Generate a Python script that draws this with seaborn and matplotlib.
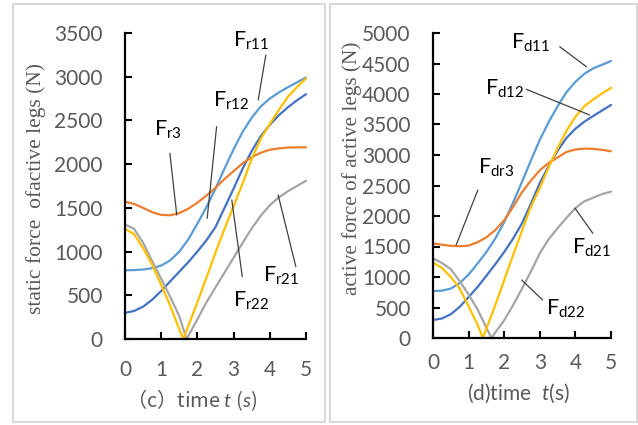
import numpy as np
import pandas as pd
import matplotlib
matplotlib.use('Agg')
import matplotlib.pyplot as plt
import seaborn as sns
from matplotlib.patches import Rectangle

# --- data ---
t_q = [0, 0.25, 0.5, 0.75, 1, 1.25, 1.5, 1.75, 2, 2.25, 2.5, 2.75, 3,
       3.25, 3.5, 3.75, 4, 4.25, 4.5, 4.75, 5]

# (c) static force of active legs
fr11 = [786, 788, 795, 810, 840, 900, 1000, 1140, 1320, 1510, 1720, 1950, 2170,
        2370, 2530, 2660, 2750, 2820, 2880, 2935, 2990]
fr12 = [300, 320, 370, 450, 550, 660, 770, 880, 1000, 1130, 1280, 1500, 1720,
        1950, 2150, 2320, 2450, 2560, 2650, 2730, 2800]
fr3 = [1570, 1545, 1500, 1450, 1420, 1415, 1440, 1490, 1560, 1640, 1730, 1830, 1920,
       2010, 2080, 2130, 2165, 2180, 2190, 2192, 2192]
t_fr22 = [0, 0.25, 0.5, 0.75, 1, 1.25, 1.5, 1.61, 2, 2.25, 2.5, 2.75, 3,
          3.25, 3.5, 3.75, 4, 4.25, 4.5, 4.75, 5]
fr22 = [1260, 1200, 1040, 850, 620, 380, 110, 0, 420, 700, 990, 1260, 1520,
        1780, 2060, 2290, 2460, 2620, 2770, 2880, 2980]
t_fr21 = [0, 0.25, 0.5, 0.75, 1, 1.25, 1.5, 1.7, 2, 2.25, 2.5, 2.75, 3,
          3.25, 3.5, 3.75, 4, 4.25, 4.5, 4.75, 5]
fr21 = [1310, 1260, 1100, 890, 690, 480, 260, 0, 225, 420, 590, 760, 930,
        1100, 1265, 1410, 1530, 1620, 1690, 1750, 1810]

# (d) active force of active legs
fd11 = [770, 775, 810, 900, 1040, 1220, 1410, 1630, 1900, 2220, 2560, 2910, 3250,
        3540, 3800, 4030, 4200, 4330, 4420, 4480, 4540]
fd12 = [295, 320, 390, 510, 670, 835, 1020, 1210, 1410, 1630, 1880, 2200, 2540,
        2820, 3070, 3280, 3430, 3545, 3640, 3730, 3820]
fdr3 = [1550, 1530, 1510, 1505, 1515, 1570, 1650, 1770, 1930, 2150, 2390, 2580, 2750,
        2870, 2960, 3050, 3090, 3105, 3100, 3085, 3060]
t_fd22 = [0, 0.25, 0.5, 0.75, 1, 1.25, 1.4, 1.75, 2, 2.25, 2.5, 2.75, 3,
          3.25, 3.5, 3.75, 4, 4.25, 4.5, 4.75, 5]
fd22 = [1235, 1150, 1000, 810, 520, 220, 0, 540, 950, 1360, 1760, 2150, 2460,
        2800, 3110, 3400, 3625, 3800, 3910, 4010, 4100]
t_fd21 = [0, 0.25, 0.5, 0.75, 1, 1.25, 1.5, 1.64, 2, 2.25, 2.5, 2.75, 3,
          3.25, 3.5, 3.75, 4, 4.25, 4.5, 4.75, 5]
fd21 = [1306, 1230, 1130, 930, 714, 469, 169, 0, 290, 540, 810, 1090, 1390,
        1620, 1800, 1970, 2130, 2240, 2300, 2360, 2400]

c_lblue = '#5B9BD5'
c_blue = '#4472C4'
c_orange = '#ED7D31'
c_gray = '#A5A5A5'
c_gold = '#FFC000'
grey_txt = '#595959'

sns.set_style('ticks')
plt.rcParams['font.family'] = ['Lato', 'DejaVu Sans']
plt.rcParams['mathtext.fontset'] = 'custom'
plt.rcParams['mathtext.it'] = 'Lato:italic'
plt.rcParams['mathtext.rm'] = 'Lato'
plt.rcParams['mathtext.default'] = 'regular'

W, H = 638, 425
fig = plt.figure(figsize=(W / 100, H / 100), dpi=100)
fig.patch.set_facecolor('white')

# panel frames
fig.add_artist(Rectangle((13 / W, 1 - 422 / H), (325 - 13) / W, (422 - 4) / H,
                         transform=fig.transFigure, fill=False, ec='#D9D9D9', lw=1.5))
fig.add_artist(Rectangle((330 / W, 1 - 422 / H), (637 - 330) / W, (422 - 4) / H,
                         transform=fig.transFigure, fill=False, ec='#D9D9D9', lw=1.5))

ax1 = fig.add_axes([125 / W, 1 - 339 / H, 181 / W, 306 / H])
ax2 = fig.add_axes([433 / W, 1 - 338 / H, 178 / W, 305 / H])

lw = 1.6
sns.lineplot(x=t_q, y=fr11, ax=ax1, color=c_lblue, lw=lw)
sns.lineplot(x=t_q, y=fr12, ax=ax1, color=c_blue, lw=lw)
sns.lineplot(x=t_q, y=fr3, ax=ax1, color=c_orange, lw=lw)
sns.lineplot(x=t_fr21, y=fr21, ax=ax1, color=c_gray, lw=lw)
sns.lineplot(x=t_fr22, y=fr22, ax=ax1, color=c_gold, lw=lw)

sns.lineplot(x=t_q, y=fd11, ax=ax2, color=c_lblue, lw=lw)
sns.lineplot(x=t_q, y=fd12, ax=ax2, color=c_blue, lw=lw)
sns.lineplot(x=t_q, y=fdr3, ax=ax2, color=c_orange, lw=lw)
sns.lineplot(x=t_fd21, y=fd21, ax=ax2, color=c_gray, lw=lw)
sns.lineplot(x=t_fd22, y=fd22, ax=ax2, color=c_gold, lw=lw)

for ax, ymax, step, xpad in [(ax1, 3500, 500, 15), (ax2, 5000, 500, 11)]:
    for ln in ax.lines:
        ln.set_clip_on(False)
        ln.set_solid_joinstyle('round')
    ax.set_xlim(0, 5)
    ax.set_ylim(0, ymax)
    ax.set_xticks(range(0, 6))
    ax.set_yticks(range(0, ymax + 1, step))
    sns.despine(ax=ax)
    for s in ['left', 'bottom']:
        ax.spines[s].set_linewidth(1.6)
        ax.spines[s].set_color('black')
    ax.tick_params(axis='both', direction='in', length=5, width=1.5,
                   labelsize=15, labelcolor=grey_txt, color='black')
    ax.tick_params(axis='x', pad=xpad)
    ax.tick_params(axis='y', pad=16)
    ax.set_facecolor('none')

# axis labels
ax1.set_ylabel('static force  ofactive legs (N)', family='Liberation Serif',
               fontsize=15.5, color=grey_txt, va='center')
ax1.yaxis.set_label_coords((36 - 125) / 181, (339 - 188) / 306)
ax2.set_ylabel('active force of active legs (N)', family='Liberation Serif',
               fontsize=15.3, color=grey_txt, va='center')
ax2.yaxis.set_label_coords((352 - 433) / 178, (338 - 168) / 305)

ax1.set_xlabel('（c）time $\\mathit{t}$ ($\\mathit{s}$)', family='Noto Sans CJK SC',
               fontsize=14.5, color=grey_txt, va='center')
ax1.xaxis.set_label_coords((192 - 125) / 181, (339 - 400) / 306)
ax2.set_xlabel('(d)time  $\\mathit{t}$(s)', fontsize=15, color=grey_txt, va='center')
ax2.xaxis.set_label_coords((518 - 433) / 178, (338 - 393) / 305)

# curve name labels with leader lines
lead = dict(color='#404040', lw=0.9)
lbl = dict(fontsize=15.5, color='black', ha='left', va='baseline')

ax1.text(2.98, 3340, 'F$_{r11}$', **lbl)
ax1.plot([3.89, 3.68], [3248, 2734], **lead)
ax1.text(2.43, 2654, 'F$_{r12}$', **lbl)
ax1.plot([2.53, 2.27], [2428, 1381], **lead)
ax1.text(0.80, 2322, 'F$_{r3}$', **lbl)
ax1.plot([1.24, 1.43], [2124, 1418], **lead)
ax1.text(2.99, 369, 'F$_{r22}$', **lbl)
ax1.plot([2.95, 3.24], [1590, 713], **lead)
ax1.text(3.80, 655, 'F$_{r21}$', **lbl)
ax1.plot([4.23, 4.72], [1647, 827], **lead)

ax2.text(2.20, 4749, 'F$_{d11}$', **lbl)
ax2.plot([3.56, 4.31], [4775, 4447], **lead)
ax2.text(1.46, 3984, 'F$_{d12}$', **lbl)
ax2.plot([2.62, 4.40], [4077, 3656], **lead)
ax2.text(1.26, 2700, 'F$_{dr3}$', **lbl)
ax2.plot([1.26, 0.65], [2426, 1525], **lead)
ax2.text(3.90, 1389, 'F$_{d21}$', **lbl)
ax2.plot([3.99, 4.49], [2126, 1716], **lead)
ax2.text(3.17, 377, 'F$_{d22}$', **lbl)
ax2.plot([2.49, 3.08], [951, 623], **lead)

fig.savefig('out.png', dpi=100, facecolor='white')
